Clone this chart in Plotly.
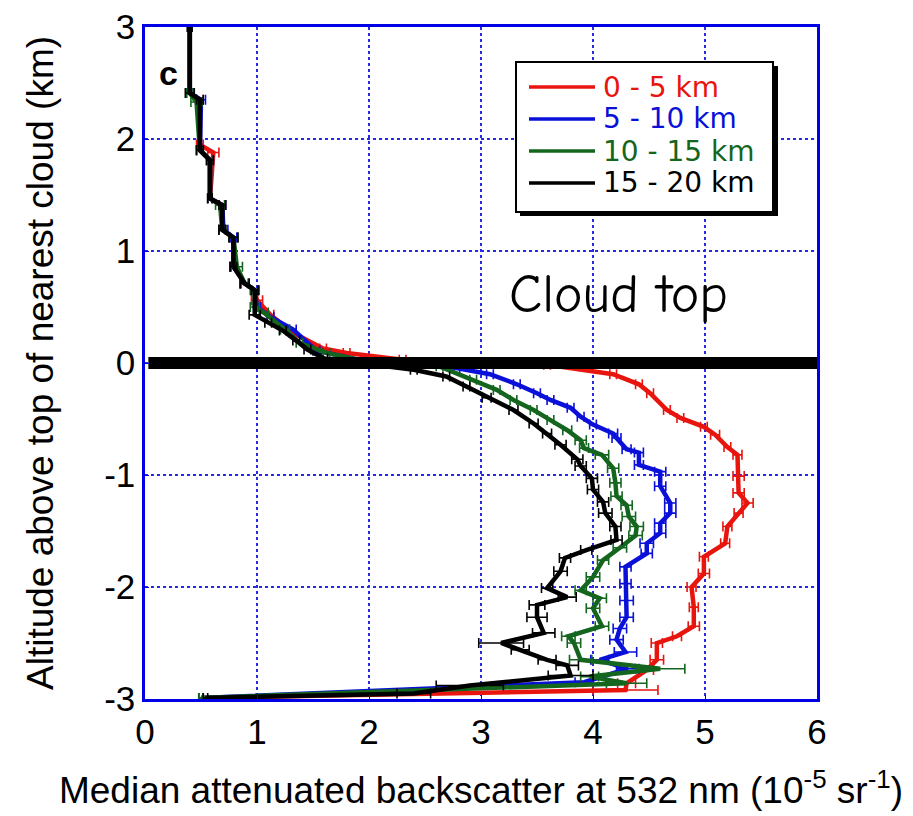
import plotly.graph_objects as go

# ---------------- data ----------------
# 0 - 5 km (red)
red_x = [0.40, 0.40, 0.49, 0.49, 0.61, 0.58, 0.69, 0.69, 0.79, 0.79, 0.89, 0.98, 1.00, 1.12, 1.32, 1.59, 1.80, 2.30, 2.95,
         3.59, 4.18, 4.41, 4.51, 4.66, 4.78, 4.99, 5.09, 5.20, 5.29, 5.30, 5.30, 5.38, 5.30, 5.20, 5.18, 4.99, 4.99,
         4.88, 4.90, 4.90, 4.75, 4.57, 4.57, 4.48, 4.30, 4.29, 0.50]
red_y = [3.00, 2.41, 2.35, 1.95, 1.88, 1.47, 1.41, 1.19, 1.12, 0.86, 0.71, 0.65, 0.56, 0.43, 0.27, 0.13, 0.09, 0.03, 0.01,
         -0.015, -0.10, -0.19, -0.27, -0.42, -0.49, -0.57, -0.64, -0.75, -0.82, -1.01, -1.16, -1.25, -1.34, -1.46, -1.61, -1.73, -1.88,
         -2.00, -2.18, -2.35, -2.44, -2.50, -2.65, -2.74, -2.86, -2.92, -2.99]
red_err = [0.02, 0.03, 0.03, 0.03, 0.05, 0.02, 0.03, 0.03, 0.03, 0.03, 0.03, 0.03, 0.05, 0.03, 0.03, 0.03, 0.03, 0.03, 0.03,
           0.03, 0.03, 0.03, 0.03, 0.03, 0.03, 0.03, 0.04, 0.03, 0.04, 0.05, 0.05, 0.05, 0.04, 0.04, 0.04, 0.04, 0.05,
           0.04, 0.04, 0.05, 0.04, 0.05, 0.06, 0.06, 0.08, 0.29, 0.02]

# 5 - 10 km (blue)
blue_x = [0.40, 0.40, 0.50, 0.49, 0.58, 0.58, 0.69, 0.70, 0.79, 0.79, 0.89, 0.98, 1.00, 1.12, 1.32, 1.53, 2.00,
          2.78, 3.08, 3.32, 3.50, 3.62, 3.80, 3.89, 4.00, 4.18, 4.21, 4.30, 4.41, 4.41, 4.60, 4.60, 4.69, 4.69, 4.60,
          4.60, 4.48, 4.48, 4.29, 4.29, 4.30, 4.30, 4.24, 4.21, 4.29, 4.06, 4.31, 3.92, 0.50]
blue_y = [3.00, 2.41, 2.35, 1.90, 1.81, 1.47, 1.41, 1.19, 1.12, 0.86, 0.71, 0.65, 0.50, 0.41, 0.30, 0.11, 0.01,
          -0.045, -0.10, -0.19, -0.27, -0.33, -0.40, -0.48, -0.55, -0.63, -0.67, -0.77, -0.80, -0.91, -0.97, -1.10, -1.25, -1.34, -1.43,
          -1.52, -1.61, -1.70, -1.82, -1.97, -2.12, -2.27, -2.37, -2.47, -2.58, -2.65, -2.73, -2.85, -2.99]
blue_err = [0.02, 0.03, 0.04, 0.03, 0.03, 0.02, 0.03, 0.04, 0.03, 0.03, 0.04, 0.03, 0.03, 0.03, 0.03, 0.03, 0.03,
            0.03, 0.03, 0.03, 0.03, 0.03, 0.03, 0.03, 0.03, 0.04, 0.04, 0.04, 0.04, 0.04, 0.05, 0.05, 0.05, 0.05, 0.05,
            0.05, 0.06, 0.05, 0.05, 0.05, 0.06, 0.06, 0.06, 0.06, 0.10, 0.08, 0.10, 0.08, 0.02]

# 10 - 15 km (green)
green_x = [0.40, 0.40, 0.46, 0.49, 0.58, 0.58, 0.67, 0.69, 0.79, 0.82, 0.89, 0.98, 0.98, 1.06, 1.25, 1.38, 1.62, 2.00,
           2.63, 2.93, 3.14, 3.29, 3.47, 3.62, 3.77, 3.89, 3.92, 4.08, 4.18, 4.20, 4.21, 4.30, 4.32, 4.39, 4.38, 4.24,
           4.09, 4.00, 3.89, 4.06, 4.00, 4.08, 3.78, 3.83, 3.89, 4.60, 3.97, 4.30, 0.50]
green_y = [3.00, 2.41, 2.33, 1.90, 1.81, 1.47, 1.41, 1.19, 1.12, 0.86, 0.71, 0.65, 0.50, 0.45, 0.30, 0.18, 0.09, 0.01,
           -0.03, -0.15, -0.24, -0.33, -0.42, -0.51, -0.60, -0.69, -0.76, -0.82, -0.94, -1.07, -1.19, -1.27, -1.37, -1.46, -1.54, -1.65,
           -1.76, -1.91, -2.03, -2.10, -2.19, -2.35, -2.44, -2.50, -2.65, -2.73, -2.80, -2.86, -2.99]
green_err = [0.02, 0.03, 0.05, 0.03, 0.03, 0.02, 0.04, 0.03, 0.04, 0.05, 0.04, 0.04, 0.04, 0.04, 0.04, 0.03, 0.03, 0.03,
             0.03, 0.03, 0.03, 0.03, 0.03, 0.03, 0.04, 0.05, 0.04, 0.06, 0.05, 0.05, 0.05, 0.05, 0.06, 0.06, 0.06, 0.06,
             0.05, 0.06, 0.05, 0.06, 0.06, 0.06, 0.06, 0.06, 0.10, 0.22, 0.08, 0.18, 0.02]

# 15 - 20 km (black)
black_x = [0.40, 0.40, 0.49, 0.49, 0.58, 0.58, 0.69, 0.69, 0.79, 0.79, 0.89, 0.98, 0.98, 1.10, 1.23, 1.35, 1.45, 1.60, 1.95,
           2.40, 2.69, 2.87, 3.05, 3.29, 3.47, 3.59, 3.71, 3.86, 3.89, 3.99, 4.00, 4.09, 4.11, 4.20, 4.21, 3.94, 3.75,
           3.71, 3.59, 3.77, 3.50, 3.50, 3.56, 3.18, 3.35, 3.59, 3.77, 3.80, 2.90, 2.40, 0.54]
black_y = [3.00, 2.41, 2.35, 1.90, 1.81, 1.47, 1.41, 1.19, 1.12, 0.86, 0.71, 0.65, 0.43, 0.36, 0.29, 0.20, 0.12, 0.04, 0.00,
           -0.06, -0.12, -0.21, -0.31, -0.42, -0.54, -0.63, -0.73, -0.86, -0.92, -1.03, -1.13, -1.24, -1.34, -1.46, -1.58, -1.67, -1.74,
           -1.86, -2.01, -2.09, -2.16, -2.27, -2.41, -2.50, -2.56, -2.65, -2.70, -2.79, -2.88, -2.95, -2.99]
black_err = [0.02, 0.04, 0.03, 0.03, 0.03, 0.02, 0.03, 0.03, 0.04, 0.03, 0.04, 0.03, 0.05, 0.03, 0.03, 0.03, 0.03, 0.03, 0.03,
             0.03, 0.03, 0.03, 0.04, 0.04, 0.04, 0.04, 0.05, 0.05, 0.05, 0.05, 0.05, 0.05, 0.06, 0.05, 0.05, 0.05, 0.05,
             0.06, 0.05, 0.08, 0.07, 0.09, 0.10, 0.20, 0.08, 0.08, 0.10, 0.20, 0.30, 0.15, 0.02]

series_names = ["0 - 5 km", "5 - 10 km", "10 - 15 km", "15 - 20 km"]
series_colors = ["#e8140e", "#0a10d8", "#14661e", "#000000"]

cloud_top_x = [0.03, 6.03]
cloud_top_y = [0.0, 0.0]

x_ticks = [0, 1, 2, 3, 4, 5, 6]
x_tick_labels = ["0", "1", "2", "3", "4", "5", "6"]
y_ticks = [-3, -2, -1, 0, 1, 2, 3]
y_tick_labels = ["-3", "-2", "-1", "0", "1", "2", "3"]

# ---------------- figure ----------------
FONT = "Liberation Sans, Arial, Helvetica, sans-serif"
fig = go.Figure()

all_x = [red_x, blue_x, green_x, black_x]
all_y = [red_y, blue_y, green_y, black_y]
all_e = [red_err, blue_err, green_err, black_err]

for name, col, xs, ys, es in zip(series_names, series_colors, all_x, all_y, all_e):
    fig.add_trace(go.Scatter(
        x=xs, y=ys, mode="lines", name=name, showlegend=False,
        line=dict(color=col, width=4.5),
        error_x=dict(type="data", array=es, visible=True, color=col, thickness=1.6, width=5),
    ))

fig.add_trace(go.Scatter(
    x=cloud_top_x, y=cloud_top_y, mode="lines", showlegend=False,
    line=dict(color="black", width=12), cliponaxis=False,
))

axis_common = dict(
    showline=True, linecolor="#0000e6", linewidth=2.5, mirror=True,
    showgrid=True, gridcolor="#2828e8", griddash="dot", gridwidth=1.5,
    zeroline=False, ticks="inside", ticklen=4, tickcolor="#0000e6",
    tickfont=dict(family=FONT, size=35, color="black"),
    automargin=False,
)

fig.update_layout(
    width=913, height=816,
    margin=dict(l=145, r=96, t=27, b=117),
    paper_bgcolor="white", plot_bgcolor="white",
    font=dict(family=FONT, color="black"),
    xaxis=dict(range=[0, 6], tickvals=x_ticks, ticktext=x_tick_labels, **axis_common,
               title=dict(text="Median attenuated backscatter at 532 nm (10<sup>-5</sup> sr<sup>-1</sup>)",
                          font=dict(family=FONT, size=37), standoff=28)),
    yaxis=dict(range=[-3, 3], tickvals=y_ticks, ticktext=y_tick_labels, **axis_common,
               title=dict(text="Altitude above top of nearest cloud (km)",
                          font=dict(family=FONT, size=37), standoff=40)),
    showlegend=False,
)

# ---- legend box (drawn manually to match the boxed legend with drop shadow) ----
def px_x(p):
    return (p - 145) / 672.0

def px_y(p):
    return (699 - p) / 672.0

fig.add_shape(type="rect", xref="paper", yref="paper",
              x0=px_x(520), x1=px_x(778), y0=px_y(216), y1=px_y(66),
              fillcolor="black", line=dict(width=0), layer="above")
fig.add_shape(type="rect", xref="paper", yref="paper",
              x0=px_x(516), x1=px_x(773), y0=px_y(212), y1=px_y(62),
              fillcolor="white", line=dict(color="black", width=2), layer="above")
legend_rows = [87, 119, 151, 183]
for name, col, row in zip(series_names, series_colors, legend_rows):
    fig.add_shape(type="line", xref="paper", yref="paper",
                  x0=px_x(529), x1=px_x(595), y0=px_y(row), y1=px_y(row),
                  line=dict(color=col, width=3.5), layer="above")
    fig.add_annotation(x=px_x(601), y=px_y(row), xref="paper", yref="paper",
                       xanchor="left", yanchor="middle", text=name, showarrow=False,
                       font=dict(family="DejaVu Sans, sans-serif", size=28, color=col))

fig.add_annotation(x=0.21, y=2.59, xref="x", yref="y", text="<b>c</b>", showarrow=False,
                   font=dict(family=FONT, size=34, color="black"))
fig.add_annotation(x=4.23, y=0.61, xref="x", yref="y", text="Cloud top", showarrow=False,
                   font=dict(family="Comic Sans MS, Comic Neue, Lato, sans-serif", size=54, color="black"))

fig.write_html("out.html")
